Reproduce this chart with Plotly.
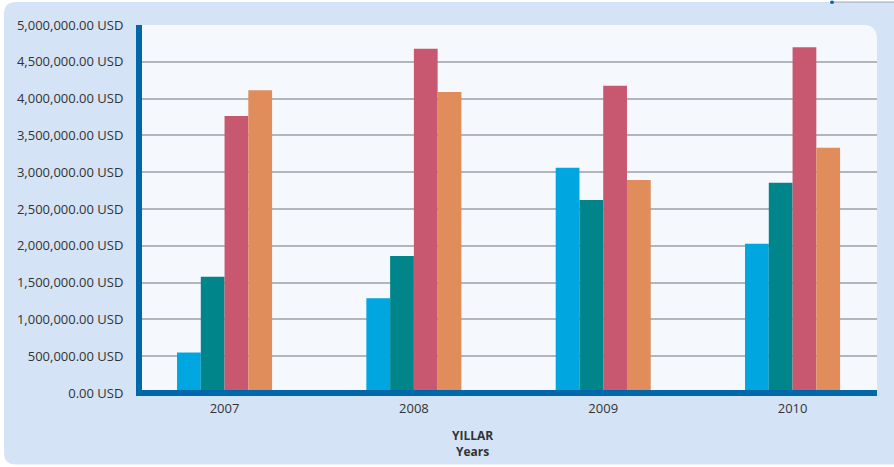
"""Yearly amounts in USD, grouped bar chart."""

import plotly.graph_objects as go

years = ["2007", "2008", "2009", "2010"]
series_a = [550000, 1286000, 3059000, 2027000]
series_b = [1580000, 1861000, 2623000, 2858000]
series_c = [3763000, 4677000, 4173000, 4699000]
series_d = [4113000, 4091000, 2895000, 3332000]
y_ticks = [0, 500000, 1000000, 1500000, 2000000, 2500000,
           3000000, 3500000, 4000000, 4500000, 5000000]
y_labels = [f"{v:,.2f} USD" for v in y_ticks]

colors = ["#00a6e0", "#00868a", "#c85870", "#e08d5b"]
axis_blue = "#0068aa"

W, H = 894, 467
L, R, T, B = 142, 17, 25, 73.5
pw, ph = W - L - R, H - T - B


def px(x):
    return (x - L) / pw


def py(y):
    return 1 - (y - T) / ph


def rounded(x0, y0, x1, y1, tl=0, tr=0, br=0, bl=0):
    # pixel box -> paper path with rounded corners
    def p(x, y):
        return f"{px(x):.5f},{py(y):.5f}"
    return (f"M {p(x0 + tl, y0)} L {p(x1 - tr, y0)} Q {p(x1, y0)} {p(x1, y0 + tr)} "
            f"L {p(x1, y1 - br)} Q {p(x1, y1)} {p(x1 - br, y1)} "
            f"L {p(x0 + bl, y1)} Q {p(x0, y1)} {p(x0, y1 - bl)} "
            f"L {p(x0, y0 + tl)} Q {p(x0, y0)} {p(x0 + tl, y0)} Z")


fig = go.Figure()
for vals, c in zip([series_a, series_b, series_c, series_d], colors):
    fig.add_bar(x=list(range(len(years))), y=vals, marker_color=c,
                marker_line_width=0, showlegend=False)

fig.add_shape(type="path", xref="paper", yref="paper", layer="below",
              path=rounded(4, 2, 910, 465, tl=12, bl=12),
              fillcolor="#d4e3f5", line_width=0)
fig.add_shape(type="path", xref="paper", yref="paper", layer="below",
              path=rounded(140, 25, 877, 394, tr=14),
              fillcolor="#f5f8fd", line_width=0)
# thick x axis bar drawn over the bar bottoms
fig.add_shape(type="line", xref="paper", yref="paper",
              x0=px(136), x1=px(877), y0=py(393.5), y1=py(393.5),
              line=dict(color=axis_blue, width=6))
fig.add_shape(type="line", xref="paper", yref="paper",
              x0=px(832), x1=px(900), y0=py(2), y1=py(2),
              line=dict(color="#a0a4aa", width=1))
fig.add_shape(type="circle", xref="paper", yref="paper",
              x0=px(830), x1=px(834), y0=py(0.5), y1=py(4),
              fillcolor=axis_blue, line_width=0)

fig.add_annotation(text="<b>YILLAR</b><br><b>Years</b>", xref="paper", yref="paper",
                   x=px(472), y=py(444), xanchor="center", yanchor="middle",
                   showarrow=False,
                   font=dict(family="Open Sans", size=12, color="#333333"))

fig.update_layout(
    width=W, height=H,
    margin=dict(l=L, r=R, t=T, b=B),
    paper_bgcolor="white",
    plot_bgcolor="rgba(0,0,0,0)",
    barmode="group",
    bargap=0.498,
    bargroupgap=0,
    font=dict(family="Open Sans", size=13, color="#333333"),
    xaxis=dict(
        tickmode="array", tickvals=list(range(len(years))), ticktext=years,
        range=[-0.436, 3.446], showgrid=False, zeroline=False,
        showline=False, ticks="", tickfont=dict(size=13), ticklabelstandoff=6,
    ),
    yaxis=dict(
        range=[0, 5000000], tickmode="array", tickvals=y_ticks, ticktext=y_labels,
        showgrid=True, gridcolor="#b4b4bc", gridwidth=1.5, zeroline=False,
        showline=True, linecolor=axis_blue, linewidth=6,
        ticks="", tickfont=dict(size=13), ticklabelstandoff=10,
    ),
)

# drop the default page margin so the figure sits at the window corner
fig.write_html("out.html", config={"displayModeBar": False},
               post_script="document.body.style.margin = '0';")
